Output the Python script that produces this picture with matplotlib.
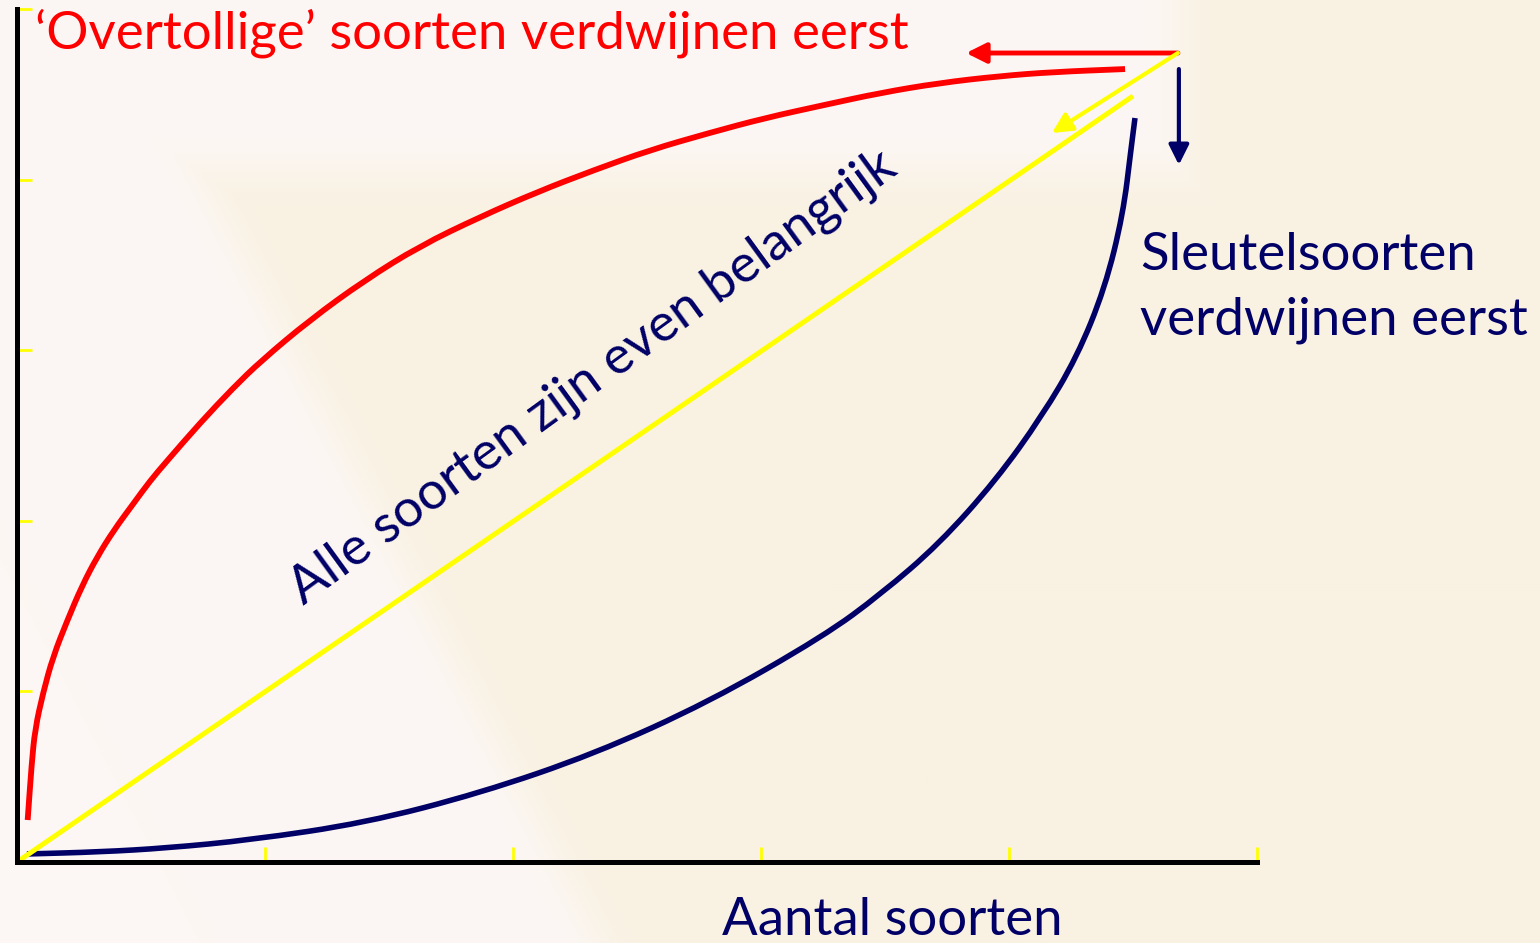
import numpy as np
import matplotlib
import matplotlib.pyplot as plt
from matplotlib.path import Path
from matplotlib.patches import PathPatch
matplotlib.use('Agg')

plt.rcParams['font.family'] = ['Lato', 'DejaVu Sans']

# curves (x: aantal soorten, y: functie), axis units 0..5
red_x = [0.043, 0.059, 0.073, 0.105, 0.145, 0.202, 0.262, 0.323, 0.391, 0.468, 0.536,
         0.605, 0.738, 0.871, 0.984, 1.181, 1.403, 1.625, 1.867, 2.097, 2.327, 2.552,
         2.790, 3.016, 3.254, 3.480, 3.718, 3.964, 4.181, 4.468]
red_y = [0.246, 0.574, 0.780, 0.991, 1.202, 1.413, 1.618, 1.788, 1.946, 2.098, 2.233,
         2.351, 2.573, 2.778, 2.937, 3.177, 3.411, 3.611, 3.781, 3.927, 4.056, 4.173,
         4.273, 4.361, 4.437, 4.508, 4.566, 4.607, 4.631, 4.648]

navy_x = [0.040, 0.335, 0.605, 0.940, 1.403, 1.867, 2.327, 2.790, 3.254, 3.484, 3.718,
          3.948, 4.133, 4.274, 4.387, 4.460, 4.492, 4.508]
navy_y = [0.047, 0.059, 0.082, 0.129, 0.229, 0.404, 0.633, 0.938, 1.325, 1.571, 1.864,
          2.239, 2.614, 2.960, 3.365, 3.798, 4.179, 4.361]

yellow_x = [0.0, 4.50]
yellow_y = [0.0, 4.49]

# arrows from the top right corner
arrow_start = (4.681, 4.742)
red_arrow_end = (3.827, 4.742)
yellow_arrow_end = (4.173, 4.273)
navy_arrow = ((4.685, 4.648), (4.685, 4.086))

ticks = [1, 2, 3, 4, 5]

title_red = "\u2018Overtollige\u2019 soorten verdwijnen eerst"
label_key = ["Sleutelsoorten", "verdwijnen eerst"]
label_equal = "Alle soorten zijn even belangrijk"
xlabel = "Aantal soorten"

RED = '#FF0000'
NAVY = '#000066'
YELLOW = '#FFFF00'


def smooth_path(xs, ys):
    # quadratic bezier through the midpoints, read points act as control points
    pts = np.column_stack([xs, ys])
    verts = [pts[0], (pts[0] + pts[1]) / 2]
    codes = [Path.MOVETO, Path.LINETO]
    for i in range(1, len(pts) - 1):
        verts += [pts[i], (pts[i] + pts[i + 1]) / 2]
        codes += [Path.CURVE3, Path.CURVE3]
    verts.append(pts[-1])
    codes.append(Path.LINETO)
    return Path(verts, codes)


W, H = 1540, 943
fig = plt.figure(figsize=(W / 100, H / 100), dpi=100)

# soft background: pinkish white band on the left/top, cream elsewhere
yy, xx = np.mgrid[0:H, 0:W].astype(float)
top = np.minimum(172 - yy, 1180 - xx)
diag = (203 + 0.52 * (yy - 177)) - xx
inside = np.maximum(top, diag)
w = 1 / (1 + np.exp(-inside / 12))
pink = np.array([252, 247, 244]) / 255
cream = np.array([249, 241, 226]) / 255
bg = w[..., None] * pink + (1 - w[..., None]) * cream
bg_ax = fig.add_axes([0, 0, 1, 1])
bg_ax.imshow(bg, aspect='auto', interpolation='bilinear')
bg_ax.axis('off')

ax = fig.add_axes([17 / W, 81 / H, 1240 / W, 853 / H])
ax.patch.set_alpha(0)
ax.set_xlim(0, 5)
ax.set_ylim(0, 5)
for s in ['top', 'right']:
    ax.spines[s].set_visible(False)
for s in ['left', 'bottom']:
    ax.spines[s].set_linewidth(3.6)
    ax.spines[s].set_color('black')
ax.set_xticks(ticks)
ax.set_yticks(ticks)
ax.tick_params(direction='in', length=11, width=2, color=YELLOW,
               labelbottom=False, labelleft=False)

ax.plot(yellow_x, yellow_y, color=YELLOW, lw=3.6, solid_capstyle='butt', clip_on=False)
ax.add_patch(PathPatch(smooth_path(red_x, red_y), fill=False, edgecolor=RED, lw=4.2,
                       capstyle='butt', clip_on=False))
ax.add_patch(PathPatch(smooth_path(navy_x, navy_y), fill=False, edgecolor=NAVY, lw=4,
                       capstyle='butt', clip_on=False))

style = '-|>,head_length=0.8,head_width=0.4'
ax.annotate('', xy=red_arrow_end, xytext=arrow_start,
            arrowprops=dict(arrowstyle=style, color=RED, lw=3.5, mutation_scale=15,
                            shrinkA=0, shrinkB=0))
ax.annotate('', xy=yellow_arrow_end, xytext=arrow_start,
            arrowprops=dict(arrowstyle=style, color=YELLOW, lw=3, mutation_scale=15,
                            shrinkA=0, shrinkB=0))
ax.annotate('', xy=navy_arrow[1], xytext=navy_arrow[0],
            arrowprops=dict(arrowstyle=style, color=NAVY, lw=3, mutation_scale=15,
                            shrinkA=0, shrinkB=0))

fs = 38
fig.text(35 / W, 1 - 48 / H, title_red, color=RED, fontsize=fs, va='baseline', ha='left')
fig.text(1140 / W, 1 - 270 / H, label_key[0], color=NAVY, fontsize=fs, va='baseline', ha='left')
fig.text(1140 / W, 1 - 335 / H, label_key[1], color=NAVY, fontsize=fs, va='baseline', ha='left')
fig.text(892 / W, 1 - 935 / H, xlabel, color=NAVY, fontsize=fs, va='baseline', ha='center')
fig.text(303 / W, 1 - 605 / H, label_equal, color=NAVY, fontsize=fs, rotation=36,
         rotation_mode='anchor', va='baseline', ha='left')

fig.savefig('out.png', dpi=100)
